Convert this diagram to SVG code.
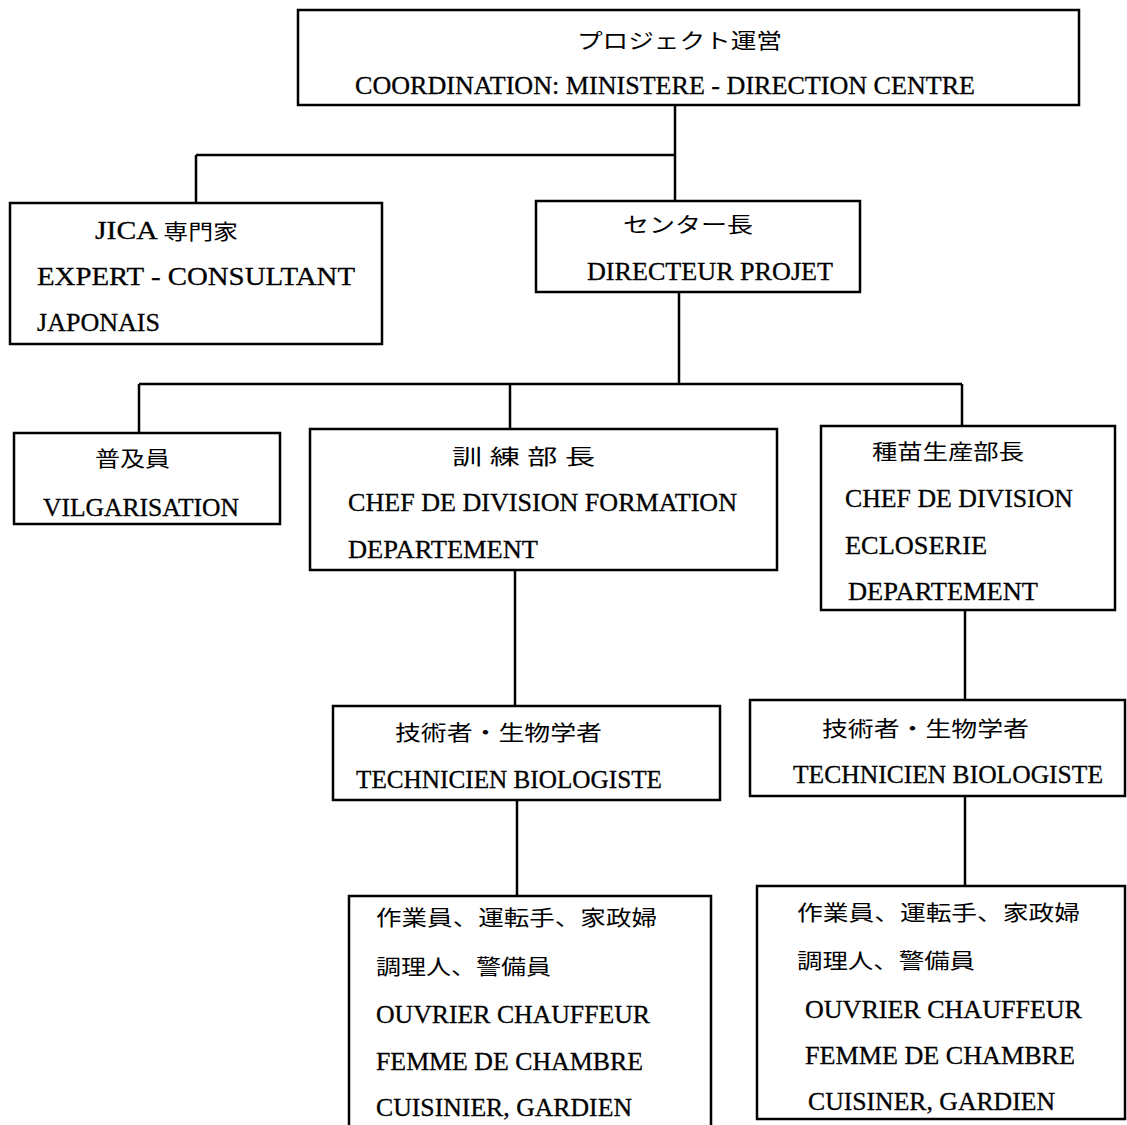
<svg xmlns="http://www.w3.org/2000/svg" width="1127" height="1125" viewBox="0 0 1127 1125">
<style>
.box{fill:#fff;stroke:#000;stroke-width:2.5}
.open{fill:none;stroke:#000;stroke-width:2.5}
.conn{fill:none;stroke:#000;stroke-width:2.5}
text{font-family:"Liberation Serif","Noto Sans CJK JP",serif;font-size:25px;fill:#000;stroke:#000;stroke-width:0.3}
.jp{font-size:21px;stroke:none;font-weight:normal}
</style>
<rect width="1127" height="1125" fill="#fff"/>
<g id="connectors">
<path class="conn" d="M675,105 V155 M196,155 H675 M196,155 V203 M675,155 V201"/>
<path class="conn" d="M679,292 V384 M139,384 H962 M139,384 V433 M510,384 V429 M962,384 V426"/>
<path class="conn" d="M515,570 V706 M965,610 V700 M517,800 V896 M965,796 V886"/>
</g>
<g id="n-top">
<rect class="box" x="298" y="10" width="781" height="95"/>
<text class="jp" x="577" y="48" textLength="205" lengthAdjust="spacingAndGlyphs">プロジェクト運営</text>
<text x="355" y="94" textLength="620" lengthAdjust="spacingAndGlyphs">COORDINATION: MINISTERE - DIRECTION CENTRE</text>
</g>
<g id="n-jica">
<rect class="box" x="10" y="203" width="372" height="141"/>
<text x="95" y="239" textLength="143" lengthAdjust="spacingAndGlyphs">JICA <tspan style="font-size:21px;stroke:none">専門家</tspan></text>
<text x="37" y="285" textLength="318" lengthAdjust="spacingAndGlyphs">EXPERT - CONSULTANT</text>
<text x="37" y="331" textLength="123" lengthAdjust="spacingAndGlyphs">JAPONAIS</text>
</g>
<g id="n-centre">
<rect class="box" x="536" y="201" width="324" height="91"/>
<text class="jp" x="623" y="232" textLength="130" lengthAdjust="spacingAndGlyphs">センター長</text>
<text x="587" y="280" textLength="246" lengthAdjust="spacingAndGlyphs">DIRECTEUR PROJET</text>
</g>
<g id="n-vulg">
<rect class="box" x="14" y="433" width="266" height="91"/>
<text class="jp" x="95" y="466" textLength="75" lengthAdjust="spacingAndGlyphs">普及員</text>
<text x="43" y="516" textLength="196" lengthAdjust="spacingAndGlyphs">VILGARISATION</text>
</g>
<g id="n-formation">
<rect class="box" x="310" y="429" width="467" height="141"/>
<text class="jp" x="452" y="464" textLength="143" lengthAdjust="spacingAndGlyphs">訓 練 部 長</text>
<text x="348" y="511" textLength="389" lengthAdjust="spacingAndGlyphs">CHEF DE DIVISION FORMATION</text>
<text x="348" y="558" textLength="190" lengthAdjust="spacingAndGlyphs">DEPARTEMENT</text>
</g>
<g id="n-ecloserie">
<rect class="box" x="821" y="426" width="294" height="184"/>
<text class="jp" x="872" y="459" textLength="152" lengthAdjust="spacingAndGlyphs">種苗生産部長</text>
<text x="845" y="507" textLength="228" lengthAdjust="spacingAndGlyphs">CHEF DE DIVISION</text>
<text x="845" y="554" textLength="142" lengthAdjust="spacingAndGlyphs">ECLOSERIE</text>
<text x="848" y="600" textLength="190" lengthAdjust="spacingAndGlyphs">DEPARTEMENT</text>
</g>
<g id="n-tech1">
<rect class="box" x="333" y="706" width="387" height="94"/>
<text class="jp" x="395" y="740" textLength="207" lengthAdjust="spacingAndGlyphs">技術者・生物学者</text>
<text x="356" y="788" textLength="306" lengthAdjust="spacingAndGlyphs">TECHNICIEN BIOLOGISTE</text>
</g>
<g id="n-tech2">
<rect class="box" x="750" y="700" width="375" height="96"/>
<text class="jp" x="822" y="736" textLength="207" lengthAdjust="spacingAndGlyphs">技術者・生物学者</text>
<text x="793" y="783" textLength="310" lengthAdjust="spacingAndGlyphs">TECHNICIEN BIOLOGISTE</text>
</g>
<g id="n-staff1">
<path class="open" d="M349,1125 V896 H711 V1125"/>
<text class="jp" x="376" y="925" textLength="281" lengthAdjust="spacingAndGlyphs">作業員、運転手、家政婦</text>
<text class="jp" x="376" y="974" textLength="175" lengthAdjust="spacingAndGlyphs">調理人、警備員</text>
<text x="376" y="1023" textLength="274" lengthAdjust="spacingAndGlyphs">OUVRIER CHAUFFEUR</text>
<text x="376" y="1070" textLength="267" lengthAdjust="spacingAndGlyphs">FEMME DE CHAMBRE</text>
<text x="376" y="1116" textLength="256" lengthAdjust="spacingAndGlyphs">CUISINIER, GARDIEN</text>
</g>
<g id="n-staff2">
<rect class="box" x="757" y="886" width="368" height="233"/>
<text class="jp" x="797" y="920" textLength="283" lengthAdjust="spacingAndGlyphs">作業員、運転手、家政婦</text>
<text class="jp" x="797" y="968" textLength="178" lengthAdjust="spacingAndGlyphs">調理人、警備員</text>
<text x="805" y="1018" textLength="277" lengthAdjust="spacingAndGlyphs">OUVRIER CHAUFFEUR</text>
<text x="805" y="1064" textLength="270" lengthAdjust="spacingAndGlyphs">FEMME DE CHAMBRE</text>
<text x="808" y="1110" textLength="247" lengthAdjust="spacingAndGlyphs">CUISINER, GARDIEN</text>
</g>
</svg>
